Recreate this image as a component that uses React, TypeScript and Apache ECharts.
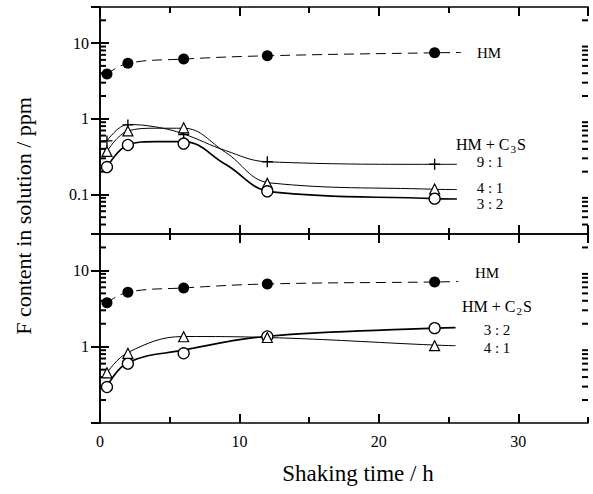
import React, { useEffect, useRef } from "react";
import * as echarts from "echarts";

const FONT = '"Liberation Serif", "Times New Roman", Times, serif';

// Sampling times (h)
const hours = [0.5, 2, 6, 12, 24];

// Upper panel: HM and HM + C3S
const topHM = [3.9, 5.4, 6.15, 6.8, 7.45];
const top91 = [0.51, 0.83, 0.62, 0.27, 0.25];
const top41 = [0.37, 0.69, 0.76, 0.14, 0.118];
const top32 = [0.23, 0.45, 0.47, 0.11, 0.088];

// Lower panel: HM and HM + C2S
const botHM = [3.76, 5.18, 5.89, 6.64, 7.05];
const bot32 = [0.296, 0.6, 0.82, 1.36, 1.75];
const bot41 = [0.455, 0.82, 1.35, 1.32, 1.03];

// Hand-drawn fitted curves ([h, ppm])
const curveTopHM: [number, number][] = [[0.5, 3.9], [2, 5.4], [6, 6.15], [12, 6.8], [24, 7.45], [25.9, 7.5]];
const curveTop91: [number, number][] = [[0.5, 0.51], [2, 0.84], [4, 0.78], [6, 0.63], [9, 0.38], [12, 0.27], [24, 0.25], [25.6, 0.25]];
const curveTop41: [number, number][] = [[0.5, 0.37], [2, 0.69], [4, 0.75], [6, 0.75], [9, 0.36], [12.2, 0.142], [24, 0.117], [25.6, 0.116]];
const curveTop32: [number, number][] = [[0.5, 0.23], [2, 0.45], [4, 0.5], [6, 0.5], [9, 0.25], [12.3, 0.108], [24, 0.088], [25.6, 0.087]];
const curveBotHM: [number, number][] = [[0.5, 3.76], [2, 5.18], [6, 5.89], [12, 6.64], [24, 7.05], [25.7, 7.15]];
const curveBot32: [number, number][] = [[0.5, 0.3], [2, 0.62], [6, 0.9], [12, 1.37], [24, 1.75], [25.5, 1.78]];
const curveBot41: [number, number][] = [[0.5, 0.455], [2, 0.84], [6, 1.36], [12, 1.32], [24, 1.05], [25.5, 1.03]];

// Log minor tick positions
const minorTop = [0.04, 0.05, 0.06, 0.07, 0.08, 0.09, 0.2, 0.3, 0.4, 0.5, 0.6, 0.7, 0.8, 0.9, 2, 3, 4, 5, 6, 7, 8, 9, 20];
const minorBot = [0.2, 0.3, 0.4, 0.5, 0.6, 0.7, 0.8, 0.9, 2, 3, 4, 5, 6, 7, 8, 9, 20];

const X_MIN = 0;
const X_MAX = 35;

const pair = (ys: number[]) => hours.map((h, i) => [h, ys[i]]);

function xAx(gridIndex: number, position: string, major: boolean, labels: boolean) {
  return {
    type: "value",
    gridIndex,
    position,
    min: X_MIN,
    max: X_MAX,
    interval: major ? 10 : 5,
    axisLine: { show: major, onZero: false, lineStyle: { color: "#000", width: 1.6 } },
    axisTick: { show: true, inside: true, length: major ? 9 : 6, lineStyle: { color: "#000", width: 2 } },
    axisLabel: {
      show: labels,
      showMaxLabel: false,
      margin: 10,
      color: "#000",
      fontFamily: FONT,
      fontSize: 16,
      formatter: (v: number) => (v <= 30 ? String(v) : ""),
    },
    splitLine: { show: false },
  };
}

function yAx(gridIndex: number, position: string, min: number, max: number, labels: boolean) {
  return {
    type: "log",
    gridIndex,
    position,
    min,
    max,
    axisLine: { show: true, lineStyle: { color: "#000", width: 1.6 } },
    axisTick: { show: true, inside: true, length: 9, lineStyle: { color: "#000", width: 2 } },
    axisLabel: {
      show: labels,
      showMinLabel: false,
      showMaxLabel: false,
      margin: 11,
      color: "#000",
      fontFamily: FONT,
      fontSize: 16,
      formatter: (v: number) => {
        const l = Math.log10(v);
        return Math.abs(l - Math.round(l)) < 1e-6 ? String(Number(v.toPrecision(6))) : "";
      },
    },
    splitLine: { show: false },
  };
}

function curve(data: [number, number][], xi: number, yi: number, width: number, dashed: boolean) {
  return {
    type: "line",
    xAxisIndex: xi,
    yAxisIndex: yi,
    data,
    smooth: 0.4,
    symbol: "none",
    silent: true,
    lineStyle: { color: "#000", width, type: dashed ? [10, 6] : "solid" },
    z: 2,
  };
}

const PLUS = "path://M5,0L5,10M0,5L10,5";

function marks(ys: number[], xi: number, yi: number, kind: string) {
  const base: any = {
    type: "scatter",
    xAxisIndex: xi,
    yAxisIndex: yi,
    data: pair(ys),
    silent: true,
    z: 5,
  };
  if (kind === "filled") {
    base.symbol = "circle";
    base.symbolSize = 11;
    base.itemStyle = { color: "#000", opacity: 1 };
  } else if (kind === "circle") {
    base.symbol = "circle";
    base.symbolSize = 11;
    base.itemStyle = { color: "#fff", borderColor: "#000", borderWidth: 1.3, opacity: 1 };
  } else if (kind === "triangle") {
    base.symbol = "triangle";
    base.symbolSize = 10;
    base.itemStyle = { color: "#fff", borderColor: "#000", borderWidth: 1.2, opacity: 1 };
  } else {
    base.symbol = PLUS;
    base.symbolSize = 11;
    base.itemStyle = { color: "rgba(0,0,0,0)", borderColor: "#000", borderWidth: 1.4, opacity: 1 };
  }
  return base;
}

// log minor ticks drawn as tiny marks at the left (x = X_MIN) and right (x = X_MAX) edges
function minorTicks(values: number[], xi: number, yi: number, atX: number, dir: number) {
  return {
    type: "scatter",
    xAxisIndex: xi,
    yAxisIndex: yi,
    silent: true,
    clip: false,
    data: values.map((v) => [atX, v]),
    symbol: "rect",
    symbolSize: [6, 2],
    symbolOffset: [3 * dir, 0],
    itemStyle: { color: "#000", opacity: 1 },
    z: 3,
  };
}

function label(text: string, x: number, y: number, rich?: any) {
  const style: any = {
    text,
    x: 0,
    y: 0,
    fill: "#000",
    fontFamily: FONT,
    fontSize: 15,
    align: "center",
    verticalAlign: "middle",
    textAlign: "center",
    textVerticalAlign: "middle",
  };
  if (rich) style.rich = rich;
  return { type: "text", x, y, style, silent: true, z: 10 };
}

const subRich = {
  n: { fontFamily: FONT, fontSize: 16, lineHeight: 20, verticalAlign: "middle" },
  s: { fontFamily: FONT, fontSize: 11, lineHeight: 11, verticalAlign: "bottom", padding: [0, 1, 0, 1] },
};

export default function App() {
  const ref = useRef<HTMLDivElement>(null);

  useEffect(() => {
    document.body.style.margin = "0";
    if (!ref.current) return;
    const chart = echarts.init(ref.current, undefined, { renderer: "svg" });
    chart.setOption({
      animation: false,
      grid: [
        { left: 100, top: 7, width: 488, height: 227 },
        { left: 100, top: 234, width: 488, height: 189 },
      ],
      xAxis: [
        xAx(0, "bottom", true, false),
        xAx(0, "bottom", false, false),
        xAx(0, "top", true, false),
        xAx(0, "top", false, false),
        xAx(1, "bottom", true, true),
        xAx(1, "bottom", false, false),
        xAx(1, "top", true, false),
        xAx(1, "top", false, false),
      ],
      yAxis: [
        yAx(0, "left", 0.03, 30, true),
        yAx(0, "right", 0.03, 30, false),
        yAx(1, "left", 0.1, 30, true),
        yAx(1, "right", 0.1, 30, false),
      ],
      series: [
        minorTicks(minorTop, 0, 0, X_MIN, 1),
        minorTicks(minorTop, 0, 0, X_MAX, -1),
        minorTicks(minorBot, 4, 2, X_MIN, 1),
        minorTicks(minorBot, 4, 2, X_MAX, -1),
        curve(curveTopHM, 0, 0, 1, true),
        curve(curveTop91, 0, 0, 1, false),
        curve(curveTop41, 0, 0, 1, false),
        curve(curveTop32, 0, 0, 1.7, false),
        marks(topHM, 0, 0, "filled"),
        marks(top91, 0, 0, "plus"),
        marks(top41, 0, 0, "triangle"),
        marks(top32, 0, 0, "circle"),
        curve(curveBotHM, 4, 2, 1, true),
        curve(curveBot32, 4, 2, 1.7, false),
        curve(curveBot41, 4, 2, 1, false),
        marks(botHM, 4, 2, "filled"),
        marks(bot32, 4, 2, "circle"),
        marks(bot41, 4, 2, "triangle"),
      ],
      graphic: [
        label("HM", 489, 53),
        label("{n|HM + C}{s|3}{n|S}", 491, 144, subRich),
        label("9 : 1", 490, 162),
        label("4 : 1", 490, 188),
        label("3 : 2", 490, 204),
        label("HM", 487, 273),
        label("{n|HM + C}{s|2}{n|S}", 497, 306, subRich),
        label("3 : 2", 497, 330),
        label("4 : 1", 497, 348),
        {
          type: "text",
          x: 358,
          y: 473,
          silent: true,
          style: {
            text: "Shaking time / h",
            fill: "#000",
            fontFamily: FONT,
            fontSize: 23,
            align: "center",
            verticalAlign: "middle",
            textAlign: "center",
            textVerticalAlign: "middle",
          },
        },
        {
          type: "text",
          x: 23,
          y: 216,
          rotation: Math.PI / 2,
          silent: true,
          style: {
            text: "F content in solution / ppm",
            fill: "#000",
            fontFamily: FONT,
            fontSize: 22,
            align: "center",
            verticalAlign: "middle",
            textAlign: "center",
            textVerticalAlign: "middle",
          },
        },
      ],
    });
    return () => chart.dispose();
  }, []);

  return <div ref={ref} style={{ width: 593, height: 494 }} />;
}
